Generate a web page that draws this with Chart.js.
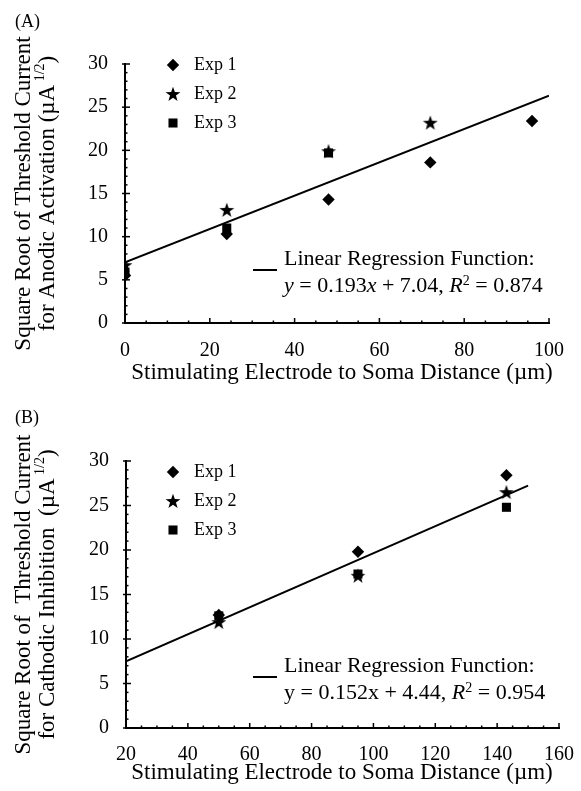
<!DOCTYPE html>
<html>
<head>
<meta charset="utf-8">
<script src="https://cdn.jsdelivr.net/npm/chart.js@4/dist/chart.umd.min.js"></script>
<style>
html,body{margin:0;padding:0;background:#fff;}
#wrap{position:relative;width:581px;height:791px;}
canvas{display:block;}
</style>
</head>
<body>
<div id="wrap">
<canvas id="cA" width="581" height="390"></canvas>
<canvas id="cB" width="581" height="401"></canvas>
</div>
<script>
// ---------- DATA ----------
const seriesNames = ['Exp 1', 'Exp 2', 'Exp 3'];

// (A) Anodic activation
const distA = [0, 24, 48, 72, 96];
const exp1A = [5.5, 10.3, 14.3, 18.6, 23.4];
const exp2A = [6.7, 13.1, 19.9, 23.2, null];
const exp3A = [5.9, 11.0, 19.7, null, null];
const fitXA = [0, 100];
const fitYA = [7.04, 26.34];
const xTicksA = [0, 100, 20];
const yTicks = [0, 30, 5];

// (B) Cathodic inhibition
const distB = [50, 95, 143];
const exp1B = [12.7, 19.8, 28.4];
const exp2B = [11.9, 17.1, 26.5];
const exp3B = [12.6, 17.3, 24.8];
const fitXB = [20, 150];
const fitYB = [7.48, 27.24];
const xTicksB = [20, 160, 20];

// ---------- helpers ----------
const FONT = "'Liberation Serif', 'Times New Roman', serif";

function pts(xs, ys) {
  const out = [];
  xs.forEach((x, i) => { if (ys[i] !== null && ys[i] !== undefined) out.push({x: x, y: ys[i]}); });
  return out;
}

function makeStar() {
  const c = document.createElement('canvas');
  c.width = 16; c.height = 16;
  const g = c.getContext('2d');
  g.fillStyle = '#000';
  g.beginPath();
  for (let i = 0; i < 10; i++) {
    const r = i % 2 === 0 ? 7.8 : 3.1;
    const a = -Math.PI / 2 + i * Math.PI / 5;
    const px = 8 + r * Math.cos(a), py = 8.6 + r * Math.sin(a);
    if (i === 0) g.moveTo(px, py); else g.lineTo(px, py);
  }
  g.closePath(); g.fill();
  return c;
}
const starImg = makeStar();

function segFont(s, size) {
  const sz = s.sup ? Math.round(size * 0.62) : size;
  return (s.it ? 'italic ' : '') + sz + 'px ' + FONT;
}
function richWidth(ctx, segs, size) {
  let w = 0;
  segs.forEach(s => { ctx.font = segFont(s, size); w += ctx.measureText(s.t).width; });
  return w;
}
function drawRich(ctx, segs, x, y, size, align) {
  let w = richWidth(ctx, segs, size);
  let cx = align === 'center' ? x - w / 2 : x;
  ctx.textAlign = 'left';
  segs.forEach(s => {
    ctx.font = segFont(s, size);
    ctx.fillText(s.t, cx, s.sup ? y - size * 0.34 : y);
    cx += ctx.measureText(s.t).width;
  });
}

const decor = {
  id: 'decor',
  afterDraw(chart, args, o) {
    const ctx = chart.ctx, xs = chart.scales.x, ys = chart.scales.y;
    const ca = chart.chartArea;
    ctx.save();
    ctx.strokeStyle = '#000'; ctx.fillStyle = '#000';
    // ticks (inside)
    ctx.lineWidth = 1.5;
    for (let v = xs.min; v <= xs.max + 1e-6; v += o.xMinor) {
      const px = xs.getPixelForValue(v);
      const major = Math.abs((v - xs.min) / o.xMajor - Math.round((v - xs.min) / o.xMajor)) < 1e-6;
      ctx.beginPath(); ctx.moveTo(px, ca.bottom); ctx.lineTo(px, ca.bottom - (major ? 5 : 2.5)); ctx.stroke();
    }
    for (let v = ys.min; v <= ys.max + 1e-6; v += 1) {
      const py = ys.getPixelForValue(v);
      const major = v % 5 === 0;
      ctx.beginPath(); ctx.moveTo(ca.left - (major ? 3 : 0), py); ctx.lineTo(ca.left + (major ? 5 : 2.5), py); ctx.stroke();
    }
    ctx.textBaseline = 'alphabetic';
    // panel label
    ctx.font = '18px ' + FONT; ctx.textAlign = 'left';
    ctx.fillText(o.panel, 15, o.panelY);
    // y title (rotated)
    const cy = (ca.top + ca.bottom) / 2;
    o.yTitle.forEach((line, i) => {
      ctx.save();
      ctx.translate(o.yTitleX[i], cy);
      ctx.rotate(-Math.PI / 2);
      ctx.textBaseline = 'middle';
      drawRich(ctx, line, 0, 0, 23, 'center');
      ctx.restore();
    });
    // x title
    ctx.textBaseline = 'alphabetic';
    drawRich(ctx, [{t: 'Stimulating Electrode to Soma Distance (\u00b5m)'}], 342, o.xTitleY, 23, 'center');
    // legend
    ctx.textBaseline = 'middle';
    chart.data.datasets.forEach((ds, i) => {
      if (ds.isFit) return;
      const ly = o.legendY + i * 29;
      Chart.helpers.drawPoint(ctx, {pointStyle: ds.pointStyle, radius: ds.pointRadius, rotation: 0, borderWidth: 0}, 173, ly);
      ctx.fillStyle = '#000';
      ctx.font = '18px ' + FONT; ctx.textAlign = 'left';
      ctx.fillText(ds.label, 194, ly);
    });
    // regression annotation
    ctx.textBaseline = 'alphabetic';
    ctx.lineWidth = 2;
    ctx.beginPath(); ctx.moveTo(253, o.regY + 5); ctx.lineTo(277, o.regY + 5); ctx.stroke();
    drawRich(ctx, [{t: 'Linear Regression Function:'}], 284, o.regY, 22, 'left');
    drawRich(ctx, o.regLine, 284, o.regY + 27, 22, 'left');
    ctx.restore();
  }
};

function makeChart(id, xs, e1, e2, e3, fx, fy, xt, opts) {
  const datasets = [
    {label: seriesNames[0], data: pts(xs, e1), pointStyle: 'rectRot', pointRadius: 6.2, backgroundColor: '#000', borderWidth: 0},
    {label: seriesNames[1], data: pts(xs, e2), pointStyle: starImg, pointRadius: 7, backgroundColor: '#000', borderWidth: 0},
    {label: seriesNames[2], data: pts(xs, e3), pointStyle: 'rect', pointRadius: 6.4, backgroundColor: '#000', borderWidth: 0},
    {label: 'fit', isFit: true, data: pts(fx, fy), showLine: true, pointRadius: 0, borderColor: '#000', borderWidth: 2, fill: false}
  ];
  return new Chart(document.getElementById(id), {
    type: 'scatter',
    data: {datasets: datasets},
    options: {
      responsive: false, animation: false, devicePixelRatio: 1,
      layout: {padding: {top: opts.padTop, right: opts.padRight, bottom: 0, left: 0}},
      plugins: {legend: {display: false}, tooltip: {enabled: false}, decor: opts.decor},
      scales: {
        x: {
          type: 'linear', min: xt[0], max: xt[1],
          grid: {display: false},
          border: {display: true, color: '#000', width: 2},
          ticks: {stepSize: xt[2], color: '#000', font: {family: FONT, size: 20}, padding: opts.xPad, maxRotation: 0},
          afterFit: s => { s.height = opts.xH; }
        },
        y: {
          type: 'linear', min: yTicks[0], max: yTicks[1],
          grid: {display: false},
          border: {display: true, color: '#000', width: 2},
          ticks: {stepSize: yTicks[2], color: '#000', font: {family: FONT, size: 20}, padding: 9},
          afterFit: s => { s.width = opts.yW; }
        }
      }
    },
    plugins: [decor]
  });
}

makeChart('cA', distA, exp1A, exp2A, exp3A, fitXA, fitYA, xTicksA, {
  padTop: 64, padRight: 32, xH: 67, yW: 125, xPad: 8,
  decor: {
    xMinor: 5, xMajor: 20, panel: '(A)', panelY: 27, xTitleY: 379, legendY: 65, regY: 265,
    yTitleX: [24, 48],
    yTitle: [
      [{t: 'Square Root of Threshold Current'}],
      [{t: 'for Anodic Activation (\u00b5A'}, {t: ' 1/2', sup: true}, {t: ')'}]
    ],
    regLine: [{t: 'y', it: true}, {t: ' = 0.193'}, {t: 'x', it: true}, {t: ' + 7.04, '}, {t: 'R', it: true}, {t: '2', sup: true}, {t: ' = 0.874'}]
  }
});

makeChart('cB', distB, exp1B, exp2B, exp3B, fitXB, fitYB, xTicksB, {
  padTop: 71, padRight: 18, xH: 63, yW: 126, xPad: 7,
  decor: {
    xMinor: 5, xMajor: 20, panel: '(B)', panelY: 33, xTitleY: 389, legendY: 82, regY: 282,
    yTitleX: [24, 48],
    yTitle: [
      [{t: 'Square Root of  Threshold Current'}],
      [{t: 'for Cathodic Inhibition  (\u00b5A'}, {t: ' 1/2', sup: true}, {t: ')'}]
    ],
    regLine: [{t: 'y = 0.152x + 4.44, '}, {t: 'R', it: true}, {t: '2', sup: true}, {t: ' = 0.954'}]
  }
});
</script>
</body>
</html>
